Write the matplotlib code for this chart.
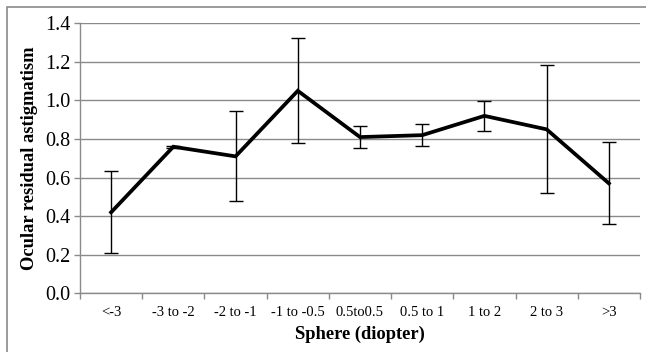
import matplotlib.pyplot as plt
from matplotlib.patches import Rectangle

plt.rcParams['font.family'] = ['Liberation Serif', 'DejaVu Serif']

categories = ['<-3', '-3 to -2', '-2 to -1', '-1 to -0.5', '0.5to0.5',
              '0.5 to 1', '1 to 2', '2 to 3', '>3']
means = [0.42, 0.76, 0.71, 1.05, 0.81, 0.82, 0.92, 0.85, 0.57]
upper = [0.635, 0.765, 0.947, 1.325, 0.869, 0.880, 0.999, 1.184, 0.786]
lower = [0.207, 0.755, 0.477, 0.778, 0.753, 0.764, 0.843, 0.522, 0.358]
yticks = [0.0, 0.2, 0.4, 0.6, 0.8, 1.0, 1.2, 1.4]

GRAY = '#8a8a8a'

fig = plt.figure(figsize=(6.46, 3.52), dpi=100)
ax = fig.add_axes([80 / 646, 1 - 293.3 / 352, 560 / 646, 270 / 352])

x = list(range(len(categories)))
yerr = [[m - lo for m, lo in zip(means, lower)],
        [up - m for m, up in zip(means, upper)]]
ax.errorbar(x, means, yerr=yerr, fmt='none', ecolor='black',
            elinewidth=1.0, capsize=5, capthick=1.0, zorder=3)
ax.plot(x, means, color='black', linewidth=2.7, solid_joinstyle='miter', zorder=4)

ax.set_xlim(-0.5, len(categories) - 0.5)
ax.set_ylim(0, 1.4)
ax.set_yticks(yticks)
ax.set_yticklabels([f'{v:.1f}' for v in yticks], fontsize=14.5)
ax.set_xticks(x)
ax.set_xticklabels(categories, fontsize=10.5)
ax.tick_params(axis='x', length=0, pad=9)
ax.set_xticks([i - 0.5 for i in range(len(categories) + 1)], minor=True)
ax.tick_params(axis='x', which='minor', length=4, color=GRAY, width=1)
ax.tick_params(axis='y', length=4, color=GRAY, width=1, pad=3)

ax.grid(axis='y', color=GRAY, linewidth=1)
ax.set_axisbelow(True)
for side in ['top', 'right']:
    ax.spines[side].set_visible(False)
for side in ['left', 'bottom']:
    ax.spines[side].set_color(GRAY)
    ax.spines[side].set_linewidth(1)

ax.set_ylabel('Ocular residual astigmatism', fontsize=13.3, fontweight='bold', labelpad=5)
ax.set_xlabel('Sphere (diopter)', fontsize=13.3, fontweight='bold', labelpad=5)

fig.patches.append(Rectangle((6.5 / 646, -0.1), 1.2, 1 - 6.5 / 352 + 0.1,
                             transform=fig.transFigure, fill=False,
                             edgecolor=GRAY, linewidth=1.2))

fig.savefig('out.png', dpi=100)
